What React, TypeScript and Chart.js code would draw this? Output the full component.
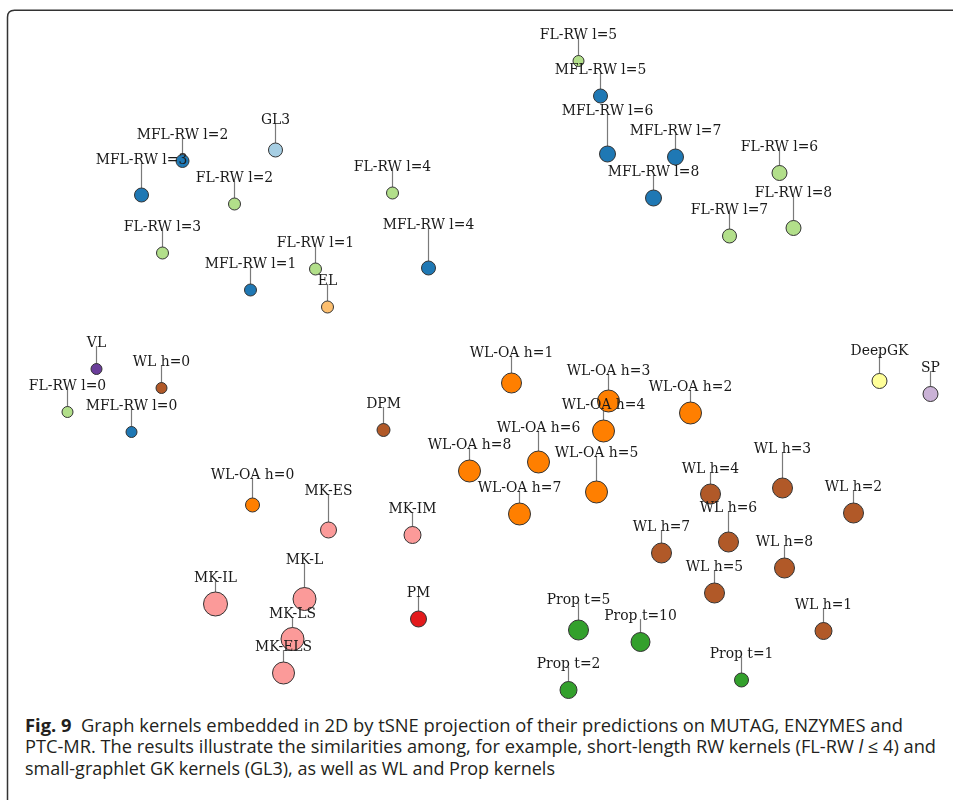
import React, { useEffect, useLayoutEffect, useRef } from "react";
import { Chart, registerables } from "chart.js";

Chart.register(...registerables);

// Kernel names, tSNE coordinates (arbitrary units), marker radius, family, label lift (data units)
const kernelNames = [
  "FL-RW l=5", "MFL-RW l=5", "MFL-RW l=6", "MFL-RW l=7", "MFL-RW l=8",
  "FL-RW l=6", "FL-RW l=8", "FL-RW l=7", "GL3", "MFL-RW l=2",
  "MFL-RW l=3", "FL-RW l=2", "FL-RW l=4", "FL-RW l=3", "MFL-RW l=4",
  "FL-RW l=1", "MFL-RW l=1", "EL", "VL", "WL h=0",
  "FL-RW l=0", "MFL-RW l=0", "DPM", "WL-OA h=0", "MK-ES",
  "MK-IM", "MK-L", "MK-IL", "PM", "MK-LS",
  "MK-ELS", "WL-OA h=1", "WL-OA h=3", "WL-OA h=2", "WL-OA h=4",
  "WL-OA h=6", "WL-OA h=8", "WL-OA h=5", "WL-OA h=7", "DeepGK",
  "SP", "WL h=3", "WL h=4", "WL h=2", "WL h=6",
  "WL h=7", "WL h=8", "WL h=5", "WL h=1", "Prop t=5",
  "Prop t=10", "Prop t=1", "Prop t=2",
];

const tsneX = [
  10.2, 12.4, 13.1, 19.9, 17.7,
  30.3, 31.7, 25.3, -20.1, -29.4,
  -33.5, -24.2, -8.4, -31.4, -4.8,
  -16.1, -22.6, -14.9, -38.0, -31.5,
  -40.9, -34.5, -9.3, -22.4, -14.8,
  -6.4, -17.2, -26.1, -5.8, -18.4,
  -19.3, 3.5, 13.2, 21.4, 12.7,
  6.2, -0.7, 12.0, 4.3, 40.3,
  45.4, 30.6, 23.4, 37.7, 25.2,
  18.5, 30.8, 23.8, 34.7, 10.2,
  16.4, 26.5, 9.2,
];

const tsneY = [
  28.9, 25.4, 19.6, 19.3, 15.2,
  17.7, 12.2, 11.4, 20.0, 18.9,
  15.5, 14.6, 15.7, 9.7, 8.2,
  8.1, 6.0, 4.3, -1.9, -3.8,
  -6.2, -8.2, -8.0, -15.5, -18.0,
  -18.5, -24.9, -25.4, -26.9, -28.9,
  -32.3, -3.3, -5.1, -6.3, -8.1,
  -11.2, -12.1, -14.2, -16.4, -3.1,
  -4.4, -13.8, -14.4, -16.3, -19.2,
  -20.3, -21.8, -24.3, -28.1, -28.0,
  -29.2, -33.0, -34.0,
];

const markerRadius = [
  5.5, 7, 8, 8, 8,
  7.5, 7.5, 7, 7, 6.5,
  7, 6, 6, 6, 7,
  6, 6, 6, 5.5, 5.5,
  5.5, 5.5, 6.5, 7, 8,
  8.5, 11.5, 12, 8, 11.5,
  11, 10, 11, 11, 11,
  11, 11, 11, 11, 7.5,
  7.5, 10, 10, 10, 10,
  10, 10, 10, 8.5, 10,
  9.5, 7, 8.5,
];

const kernelFamily = [
  "FL-RW", "MFL-RW", "MFL-RW", "MFL-RW", "MFL-RW",
  "FL-RW", "FL-RW", "FL-RW", "GL3", "MFL-RW",
  "MFL-RW", "FL-RW", "FL-RW", "FL-RW", "MFL-RW",
  "FL-RW", "MFL-RW", "EL", "VL", "WL",
  "FL-RW", "MFL-RW", "DPM", "WL-OA", "MK",
  "MK", "MK", "MK", "PM", "MK",
  "MK", "WL-OA", "WL-OA", "WL-OA", "WL-OA",
  "WL-OA", "WL-OA", "WL-OA", "WL-OA", "DeepGK",
  "SP", "WL", "WL", "WL", "WL",
  "WL", "WL", "WL", "WL", "Prop",
  "Prop", "Prop", "Prop",
];

const labelLift = [
  2.7, 2.7, 4.4, 2.7, 2.7,
  2.7, 3.6, 2.7, 3.1, 2.7,
  3.6, 2.7, 2.7, 2.7, 4.4,
  2.7, 2.7, 2.7, 2.7, 2.7,
  2.7, 2.7, 2.7, 3.1, 4.0,
  2.7, 4.0, 2.7, 2.7, 2.6,
  2.7, 3.1, 3.1, 2.7, 2.7,
  3.5, 2.7, 4.0, 2.7, 3.1,
  2.7, 4.0, 2.6, 2.7, 3.5,
  2.7, 2.7, 2.7, 2.7, 3.1,
  2.7, 2.7, 2.7,
];

const captionLines = [
  "Graph kernels embedded in 2D by tSNE projection of their predictions on MUTAG, ENZYMES and",
  "PTC-MR. The results illustrate the similarities among, for example, short-length RW kernels (FL-RW ",
  "small-graphlet GK kernels (GL3), as well as WL and Prop kernels",
];

const familyColors: Record<string, string> = {
  "FL-RW": "#b2df8a",
  "MFL-RW": "#1f78b4",
  GL3: "#a6cee3",
  EL: "#fdbf6f",
  VL: "#6a3d9a",
  WL: "#b15928",
  DPM: "#b15928",
  "WL-OA": "#ff7f00",
  MK: "#fb9a99",
  PM: "#e31a1c",
  Prop: "#33a02c",
  DeepGK: "#ffff99",
  SP: "#cab2d6",
};

const labelPlugin = {
  id: "kernelLabels",
  beforeDatasetsDraw(chart: any) {
    const ctx = chart.ctx;
    const xs = chart.scales.x;
    const ys = chart.scales.y;
    ctx.save();
    ctx.strokeStyle = "#7a7a7a";
    ctx.lineWidth = 1.2;
    kernelNames.forEach((_, i) => {
      const px = xs.getPixelForValue(tsneX[i]);
      const py = ys.getPixelForValue(tsneY[i]);
      const ly = ys.getPixelForValue(tsneY[i] + labelLift[i]);
      ctx.beginPath();
      ctx.moveTo(px, ly + 4);
      ctx.lineTo(px, py);
      ctx.stroke();
    });
    ctx.restore();
  },
  afterDatasetsDraw(chart: any) {
    const ctx = chart.ctx;
    const xs = chart.scales.x;
    const ys = chart.scales.y;
    ctx.save();
    ctx.fillStyle = "#1a1a1a";
    ctx.font = "13.9px 'DejaVu Serif'";
    ctx.textAlign = "center";
    ctx.textBaseline = "middle";
    kernelNames.forEach((name, i) => {
      const px = xs.getPixelForValue(tsneX[i]);
      const ly = ys.getPixelForValue(tsneY[i] + labelLift[i]);
      ctx.fillText(name, px, ly + 1);
    });
    ctx.restore();
  },
};

function ScatterChart() {
  const canvasRef = useRef<HTMLCanvasElement | null>(null);
  useEffect(() => {
    if (!canvasRef.current) return;
    const chart = new Chart(canvasRef.current, {
      type: "bubble",
      data: {
        datasets: [
          {
            data: kernelNames.map((_, i) => ({ x: tsneX[i], y: tsneY[i], r: markerRadius[i] })),
            backgroundColor: kernelFamily.map((f) => familyColors[f]),
            borderColor: "#333333",
            borderWidth: 1,
            clip: false as any,
          },
        ],
      },
      options: {
        animation: false,
        responsive: false,
        maintainAspectRatio: false,
        layout: { padding: 0, autoPadding: false },
        plugins: { legend: { display: false }, tooltip: { enabled: false } },
        scales: {
          x: { type: "linear", display: false, min: -47.65, max: 47.65 },
          y: { type: "linear", display: false, min: -35, max: 35 },
        },
      },
      plugins: [labelPlugin],
    });
    return () => chart.destroy();
  }, []);
  return (
    <canvas
      ref={canvasRef}
      width={953}
      height={700}
      style={{ position: "absolute", left: 0, top: 0, width: 953, height: 700 }}
    />
  );
}

function FitLine(props: { top: number; left: number; width: number; children: React.ReactNode }) {
  const ref = useRef<HTMLDivElement | null>(null);
  const fit = () => {
    const el = ref.current;
    if (!el) return;
    el.style.transform = "none";
    const w = el.getBoundingClientRect().width;
    if (w > 0) el.style.transform = `scaleX(${props.width / w})`;
  };
  useLayoutEffect(() => {
    fit();
    const fonts = (document as any).fonts;
    if (fonts && fonts.ready) fonts.ready.then(fit);
  });
  return (
    <div
      ref={ref}
      style={{
        position: "absolute",
        left: props.left,
        top: props.top,
        whiteSpace: "nowrap",
        transformOrigin: "0 0",
        fontFamily: "'Open Sans', 'Noto Sans', sans-serif",
        fontSize: 17.5,
        lineHeight: "21.4px",
        color: "#231f20",
      }}
    >
      {props.children}
    </div>
  );
}

export default function App() {
  return (
    <div
      style={{
        position: "fixed",
        left: 0,
        top: 0,
        width: 953,
        height: 800,
        overflow: "hidden",
        background: "#ffffff",
      }}
    >
      <svg
        width={953}
        height={800}
        style={{ position: "absolute", left: 0, top: 0 }}
      >
        <path
          d="M 7.5 800 L 7.5 17.3 Q 7.5 10.3 14.5 10.3 L 953 10.3"
          fill="none"
          stroke="#333"
          strokeWidth={1.5}
        />
      </svg>
      <ScatterChart />
      <FitLine top={715} left={25} width={878}>
        <b>Fig. 9</b>&nbsp; {captionLines[0]}
      </FitLine>
      <FitLine top={736} left={25} width={911}>
        {captionLines[1]}
        <i>l</i> ≤ 4) and
      </FitLine>
      <FitLine top={758} left={25} width={530}>
        {captionLines[2]}
      </FitLine>
    </div>
  );
}
